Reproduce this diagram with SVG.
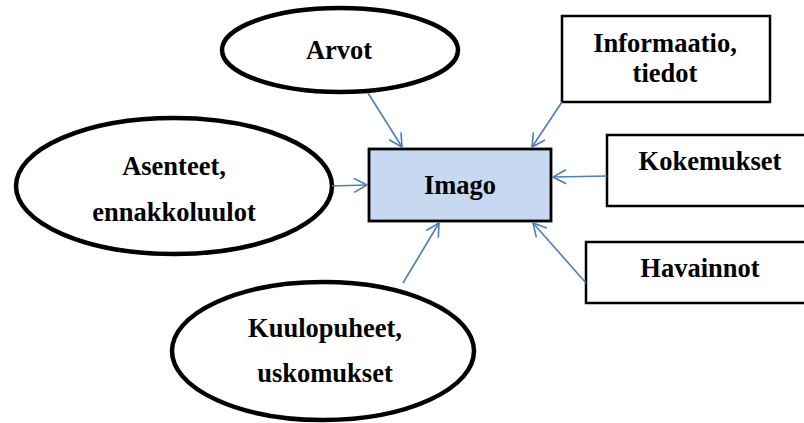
<svg xmlns="http://www.w3.org/2000/svg" width="804" height="423" viewBox="0 0 804 423">
<style>
.ell{fill:#fff;stroke:#000;stroke-width:4.5}
.box{fill:#fff;stroke:#000;stroke-width:2.5}
.t{font-family:'Liberation Serif','Times New Roman','DejaVu Serif',serif;font-weight:700;font-size:26.5px;fill:#000;text-anchor:middle}
.c{stroke:#4a7ebb;stroke-width:1.6;fill:none;marker-end:url(#ah)}
</style>
<defs>
<marker id="ah" viewBox="0 0 16 16" refX="15" refY="8" markerWidth="16" markerHeight="16" markerUnits="userSpaceOnUse" orient="auto">
<path d="M2,1 L15,8 L2,15" fill="none" stroke="#4a7ebb" stroke-width="1.6"/>
</marker>
</defs>
<rect width="804" height="423" fill="#fff"/>
<g id="imago">
<rect x="369" y="149" width="182" height="72" fill="#c6d9f1" stroke="#000" stroke-width="2.8"/>
<text class="t" x="460" y="194">Imago</text>
</g>
<g id="arvot">
<ellipse class="ell" cx="340" cy="50" rx="118" ry="42"/>
<text class="t" x="339" y="59">Arvot</text>
</g>
<g id="asenteet">
<ellipse class="ell" cx="174" cy="186" rx="158" ry="68"/>
<text class="t" x="174" y="175">Asenteet,</text>
<text class="t" x="174" y="221">ennakkoluulot</text>
</g>
<g id="kuulopuheet">
<ellipse class="ell" cx="323" cy="351" rx="151" ry="69"/>
<text class="t" x="325" y="337">Kuulopuheet,</text>
<text class="t" x="325" y="382">uskomukset</text>
</g>
<g id="informaatio">
<rect class="box" x="562" y="16" width="208" height="86"/>
<text class="t" x="665" y="52">Informaatio,</text>
<text class="t" x="665" y="82">tiedot</text>
</g>
<g id="kokemukset">
<rect class="box" x="607" y="135" width="210" height="71"/>
<text class="t" x="710" y="170">Kokemukset</text>
</g>
<g id="havainnot">
<rect class="box" x="586" y="242" width="230" height="61"/>
<text class="t" x="700" y="277">Havainnot</text>
</g>
<g id="connectors">
<line class="c" x1="368" y1="93" x2="402" y2="147"/>
<line class="c" x1="332" y1="186" x2="367" y2="185"/>
<line class="c" x1="403" y1="283" x2="439" y2="223"/>
<line class="c" x1="562" y1="102" x2="532" y2="147"/>
<line class="c" x1="607" y1="176" x2="553" y2="177"/>
<line class="c" x1="586" y1="283" x2="533" y2="223"/>
</g>
</svg>
